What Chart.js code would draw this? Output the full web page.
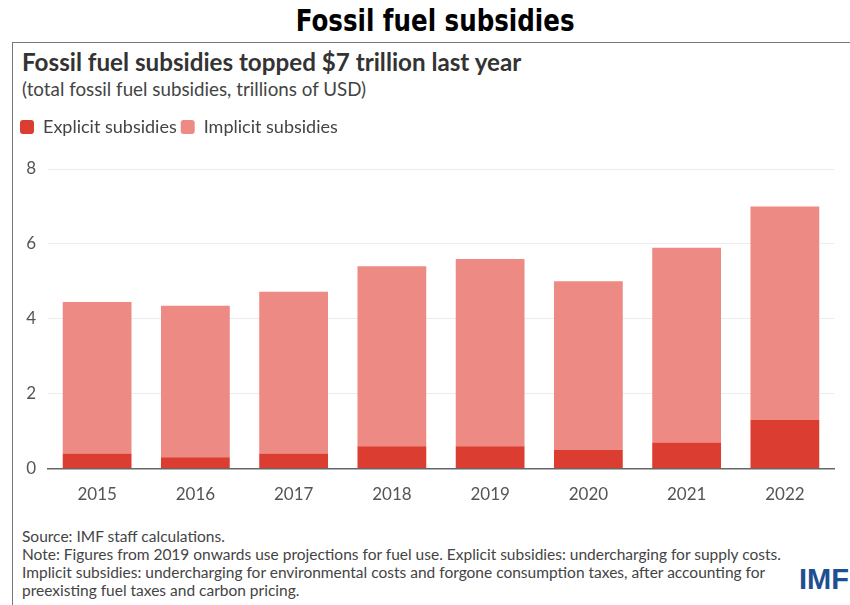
<!DOCTYPE html>
<html>
<head>
<meta charset="utf-8">
<script src="https://cdn.jsdelivr.net/npm/chart.js@4"></script>
<style>
  body { margin: 0; background: #fff; width: 850px; height: 605px; overflow: hidden; position: relative; font-family: Lato, "Noto Sans", sans-serif; }
  #title { position: absolute; top: 2px; left: 0; width: 870px; text-align: center; font-family: "Liberation Sans Narrow", "DejaVu Sans Condensed", sans-serif; font-stretch: condensed; font-weight: bold; font-size: 31px; color: #000; transform: scaleX(0.88); transform-origin: 436px 0; }
  #box { position: absolute; left: 12px; top: 42px; width: 850px; height: 580px; border-left: 1.5px solid #777; border-top: 1.5px solid #777; }
  #sub { position: absolute; left: 22px; top: 47px; font-weight: bold; font-size: 24.2px; color: #333; }
  #unit { position: absolute; left: 22px; top: 77px; font-size: 18.8px; color: #444; }
  #notes { position: absolute; left: 22px; top: 527px; font-size: 15.5px; line-height: 18px; color: #444; }
  #logo { position: absolute; left: 799px; top: 563px; font-family: "Liberation Sans Narrow", sans-serif; font-weight: bold; font-size: 29px; color: #1d4f91; }
  #wrap { position: absolute; left: 12px; top: 114px; width: 838px; height: 407px; }
</style>
</head>
<body>
<div id="title">Fossil fuel subsidies</div>
<div id="box"></div>
<div id="sub">Fossil fuel subsidies topped $7 trillion last year</div>
<div id="unit">(total fossil fuel subsidies, trillions of USD)</div>
<div id="wrap"><canvas id="myChart"></canvas></div>
<div id="notes">
Source: IMF staff calculations.<br>
Note: Figures from 2019 onwards use projections for fuel use. Explicit subsidies: undercharging for supply costs.<br>
Implicit subsidies: undercharging for environmental costs and forgone consumption taxes, after accounting for<br>
preexisting fuel taxes and carbon pricing.
</div>
<div id="logo">IMF</div>
<script>
const years = ["2015", "2016", "2017", "2018", "2019", "2020", "2021", "2022"];
const explicit = [0.4, 0.3, 0.4, 0.6, 0.6, 0.5, 0.7, 1.3];
const implicit = [4.05, 4.05, 4.32, 4.8, 5.0, 4.5, 5.2, 5.7];
const yTicks = [0, 2, 4, 6, 8];

const ctx = document.getElementById("myChart").getContext("2d");
const myChart = new Chart(ctx, {
  type: "bar",
  data: {
    labels: years,
    datasets: [
      {
        label: "Explicit subsidies",
        data: explicit,
        backgroundColor: "#dc3d31",
        borderWidth: 0,
        barPercentage: 0.7,
        categoryPercentage: 1,
      },
      {
        label: "Implicit subsidies",
        data: implicit,
        backgroundColor: "#ec8a83",
        borderWidth: 0,
        barPercentage: 0.7,
        categoryPercentage: 1,
      },
    ],
  },
  options: {
    responsive: true,
    maintainAspectRatio: false,
    animation: false,
    layout: { padding: { left: 4, right: 16, top: 0, bottom: 0 } },
    plugins: {
      tooltip: { enabled: false },
      legend: {
        position: "top",
        align: "start",
        labels: {
          boxWidth: 14,
          boxHeight: 14,
          useBorderRadius: true,
          borderRadius: 3,
          padding: 4,
          color: "#444",
          font: { family: "Lato", size: 18 },
        },
      },
    },
    scales: {
      x: {
        stacked: true,
        grid: { display: false, drawTicks: false },
        border: { color: "#666", width: 1.5 },
        ticks: { color: "#555", font: { family: "Lato", size: 17 }, padding: 16 },
      },
      y: {
        stacked: true,
        min: 0,
        max: 8,
        afterBuildTicks: (axis) => { axis.ticks = yTicks.map((v) => ({ value: v })); },
        grid: { color: "#ececec", drawTicks: false },
        border: { display: false },
        ticks: { color: "#555", font: { family: "Lato", size: 17 }, padding: 12 },
        afterFit: (axis) => { axis.width = 32; },
      },
    },
  },
  plugins: [{
    id: "legendGap",
    beforeInit(chart) {
      const fit = chart.legend.fit;
      chart.legend.fit = function () {
        fit.bind(chart.legend)();
        this.height += 23;
      };
    },
  }],
});
</script>
</body>
</html>
